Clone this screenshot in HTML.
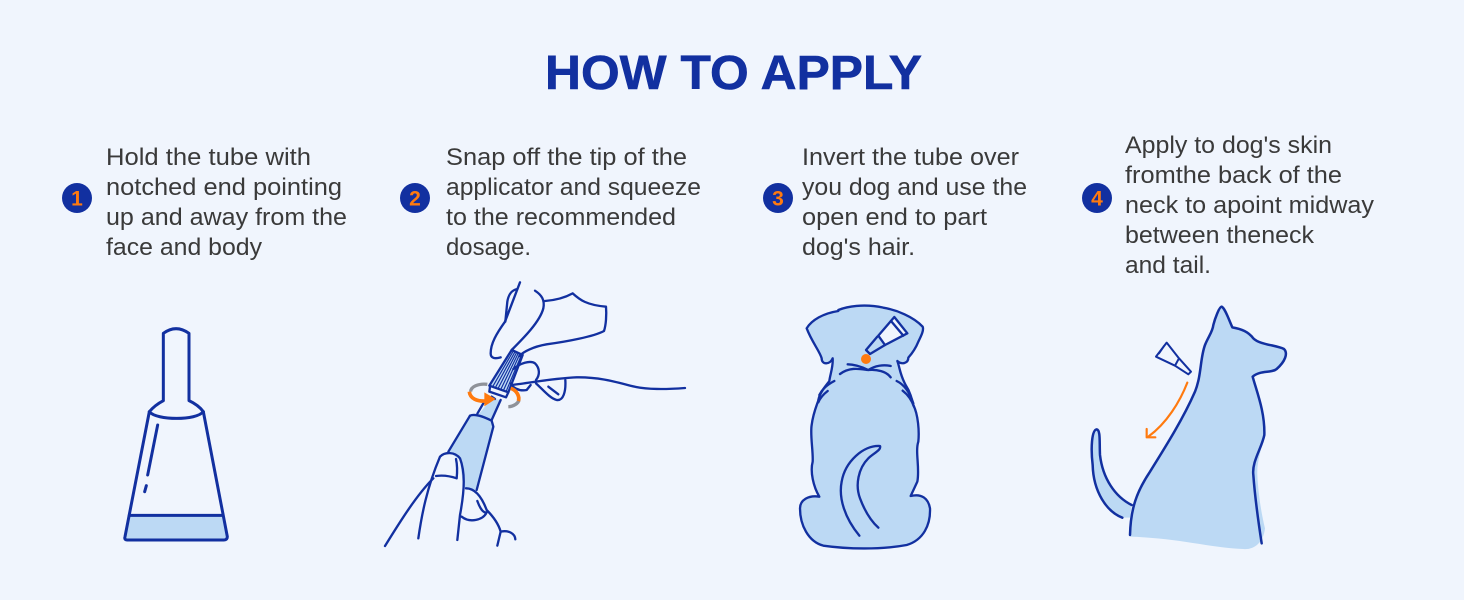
<!DOCTYPE html>
<html><head><meta charset="utf-8"><style>
html,body{margin:0;padding:0;background:#f0f5fd}
svg{display:block}
.t{font-family:"Liberation Sans",sans-serif;font-size:24px;fill:#3a3a3a}
.n{font-family:"Liberation Sans",sans-serif;font-size:21px;font-weight:bold;fill:#ff7a0f;text-anchor:middle}
.s{fill:none;stroke:#1230a0;stroke-linecap:round;stroke-linejoin:round}
</style></head><body>
<svg width="1464" height="600" viewBox="0 0 1464 600" xmlns="http://www.w3.org/2000/svg">
<rect width="1464" height="600" fill="#f0f5fd"/>
<text x="545" y="89" font-family="Liberation Sans, sans-serif" font-weight="bold" font-size="48" fill="#1230a0" stroke="#1230a0" stroke-width=".6" textLength="377" lengthAdjust="spacingAndGlyphs">HOW TO APPLY</text>

<circle cx="77" cy="198" r="15" fill="#1230a0"/><text class="n" x="77" y="205.500">1</text>
<circle cx="415" cy="198" r="15" fill="#1230a0"/><text class="n" x="415" y="205.500">2</text>
<circle cx="778" cy="198" r="15" fill="#1230a0"/><text class="n" x="778" y="205.500">3</text>
<circle cx="1097" cy="198" r="15" fill="#1230a0"/><text class="n" x="1097" y="205.500">4</text>

<g class="t">
<text class="t" x="106" y="165" textLength="205" lengthAdjust="spacingAndGlyphs">Hold the tube with</text>
<text class="t" x="106" y="195" textLength="236" lengthAdjust="spacingAndGlyphs">notched end pointing</text>
<text class="t" x="106" y="225" textLength="241" lengthAdjust="spacingAndGlyphs">up and away from the</text>
<text class="t" x="106" y="255" textLength="156" lengthAdjust="spacingAndGlyphs">face and body</text>
<text class="t" x="446" y="165" textLength="241" lengthAdjust="spacingAndGlyphs">Snap off the tip of the</text>
<text class="t" x="446" y="195" textLength="255" lengthAdjust="spacingAndGlyphs">applicator and squeeze</text>
<text class="t" x="446" y="225" textLength="230" lengthAdjust="spacingAndGlyphs">to the recommended</text>
<text class="t" x="446" y="255" textLength="85" lengthAdjust="spacingAndGlyphs">dosage.</text>
<text class="t" x="802" y="165" textLength="217" lengthAdjust="spacingAndGlyphs">Invert the tube over</text>
<text class="t" x="802" y="195" textLength="225" lengthAdjust="spacingAndGlyphs">you dog and use the</text>
<text class="t" x="802" y="225" textLength="185" lengthAdjust="spacingAndGlyphs">open end to part</text>
<text class="t" x="802" y="255" textLength="113" lengthAdjust="spacingAndGlyphs">dog's hair.</text>
<text class="t" x="1125" y="153" textLength="207" lengthAdjust="spacingAndGlyphs">Apply to dog's skin</text>
<text class="t" x="1125" y="183" textLength="217" lengthAdjust="spacingAndGlyphs">fromthe back of the</text>
<text class="t" x="1125" y="213" textLength="249" lengthAdjust="spacingAndGlyphs">neck to apoint midway</text>
<text class="t" x="1125" y="243" textLength="189" lengthAdjust="spacingAndGlyphs">between theneck</text>
<text class="t" x="1125" y="273" textLength="86" lengthAdjust="spacingAndGlyphs">and tail.</text>
</g>

<!-- Tube -->
<g transform="translate(100,310) scale(.33333)">
<path d="M88,618 L368,618 L382,682 Q382,690 372,690 L82,690 Q72,690 74,680 Z" fill="#bcd9f4"/>
<g class="s" stroke-width="9">
<path d="M190,272 L190,70 Q228,42 267,70 L267,272 Q295,285 310,305 L382,680 Q382,690 372,690 L82,690 Q72,690 75,680 L148,305 Q165,285 190,272"/>
<path d="M148,305 C170,332 290,332 310,305"/>
<path d="M88,616 L368,616" stroke-width="9"/>
<path d="M173,345 L143,495 M139,527 L134,545"/>
</g></g>

<!-- Hand -->
<g transform="translate(380,275) scale(.33333)">
<path d="M205,530 L270,422 L296,418 L335,370 L360,375 L335,435 L340,455 L290,645 L250,640 L240,555 Z" fill="#bcd9f4"/>
<path d="M395,225 L428,240 L385,350 L330,332 Z" fill="#bcd9f4"/>
<g class="s" stroke-width="7">
<path d="M412,42 C395,45 385,60 382,80 L376,140"/>
<path d="M420,22 L375,140 C350,175 332,205 332,235 C332,250 345,252 362,247"/>
<path d="M465,47 C485,60 495,75 490,100 C480,140 430,190 395,225"/>
<path d="M495,78 C530,75 560,65 578,55 C600,75 620,90 678,95 C680,120 678,150 672,168 C640,185 560,200 500,208 C460,215 430,230 418,243"/>
<path d="M400,282 C420,265 450,255 465,265 C480,280 480,300 468,315"/>
<path d="M393,325 C395,335 415,350 440,345 L452,330"/>
<path d="M395,330 C440,325 520,310 590,307 C650,306 700,318 750,332 C800,345 860,343 915,339"/>
<path d="M468,325 C490,345 510,370 530,375 C550,378 558,350 556,315"/>
<path d="M505,335 L535,358"/>
<path d="M395,225 L428,240 M395,225 L328,332 L385,352 L428,240"/>
<path d="M330,335 L328,350 L378,367 L385,352"/>
<path d="M335,365 L345,372 M362,375 L335,435 M310,385 L292,416"/>
<path d="M270,422 C285,415 310,425 335,437 L340,455 L290,645"/>
<path d="M270,422 L205,530"/>
<path d="M15,813 C60,740 110,660 160,610"/>
<path d="M115,790 C125,720 140,640 180,545 C195,530 225,530 240,550 C255,590 255,640 240,720 L232,795"/>
<path d="M168,603 C190,600 210,603 230,610 C232,590 232,570 228,552"/>
<path d="M258,640 C285,640 305,665 320,705 C335,720 355,745 362,770 L352,812"/>
<path d="M292,678 C300,700 310,715 320,712 C310,735 270,745 245,725"/>
<path d="M362,770 C385,765 405,775 406,793"/>
</g>
<g fill="none" stroke="#1230a0" stroke-width="3.500">
<path d="M400,228 L338,335 M405,230 L346,338 M410,232 L354,341 M415,234 L362,344 M420,236 L370,347 M425,238 L378,350"/>
</g>
<path d="M322,328 C295,325 272,335 272,350" fill="none" stroke="#8f9299" stroke-width="10"/>
<path d="M385,395 C400,395 415,385 417,375" fill="none" stroke="#8f9299" stroke-width="10"/>
<path d="M268,350 C270,370 290,380 320,378" fill="none" stroke="#ff7a0f" stroke-width="11"/>
<path d="M313,352 L347,372 L313,394 Z" fill="#ff7a0f"/>
<path d="M392,340 C410,345 420,365 415,378" fill="none" stroke="#ff7a0f" stroke-width="11"/>
</g>

<!-- Dog back -->
<g transform="translate(780,295) scale(.33333)">
<path d="M175,45 C200,35 250,25 310,38 C350,45 400,65 428,95 C432,105 425,120 415,140 C405,165 392,180 385,188 C385,205 365,210 352,198 C360,220 360,240 378,272 C390,290 395,310 400,330 C415,360 418,410 415,440 C405,470 420,520 412,560 L392,603 C425,595 445,610 450,640 C452,690 430,735 380,750 C300,765 200,762 130,752 C85,740 60,690 60,640 C60,615 85,600 118,605 C100,575 90,530 98,500 C100,470 90,420 95,390 C100,350 115,320 115,315 C120,290 140,270 148,258 C150,240 160,215 158,190 C150,210 125,210 125,190 C120,170 95,140 80,100 C95,75 130,55 175,48 Z" fill="#bcd9f4" stroke="#1230a0" stroke-width="7" stroke-linejoin="round"/>
<g class="s" stroke-width="7">
<path d="M203,208 C225,208 250,218 265,225 C285,212 310,208 332,213"/>
<path d="M180,237 C210,215 240,222 265,225 C290,222 320,230 332,247"/>
<path d="M163,258 C140,270 125,285 118,300 M143,288 C130,298 120,310 115,322"/>
<path d="M350,258 C375,270 390,295 400,325 M368,287 C385,300 395,315 402,335"/>
<path d="M238,722 C195,670 175,610 185,560 C195,500 250,450 300,453 C305,465 280,475 265,490 C235,520 225,570 240,610 C255,650 275,680 295,698"/>
<path d="M343,66 L382,115 L315,150 L295,122 Z" fill="#f0f5fd"/>
<path d="M333,78 L370,122"/>
<path d="M292,125 L258,165 L270,177 L315,150"/>
</g>
<circle cx="258" cy="192" r="15" fill="#ff7a0f"/>
</g>

<!-- Dog side -->
<g transform="translate(1080,295) scale(.33333)">
<path d="M150,725 C155,640 170,590 210,530 C260,450 310,370 345,290 C365,240 360,190 375,150 C385,125 398,110 400,90 C405,70 418,35 425,35 C435,40 445,70 457,97 C485,102 505,110 520,130 C540,150 590,150 612,162 C625,175 615,200 590,222 C575,235 540,225 518,245 C530,290 555,350 553,420 C545,460 530,500 532,540 C535,600 545,660 555,700 C550,745 520,765 490,762 C400,760 300,730 150,725 Z" fill="#bcd9f4"/>
<path d="M127,668 C80,650 40,590 38,510 C32,460 35,405 50,403 C62,405 58,440 60,480 C68,550 105,605 155,630 L150,668 Z" fill="#bcd9f4"/>
<g class="s" stroke-width="7.500">
<path d="M150,720 C152,640 170,590 210,530 C260,450 310,370 345,290 C365,240 360,190 375,150 C385,125 398,110 400,90 C405,70 418,35 425,35 C435,40 445,70 457,97 C485,102 505,110 520,130 C540,150 590,150 612,162 C625,175 615,200 590,222 C575,235 540,225 518,245 C530,290 555,350 553,420 C545,460 515,500 520,540 C525,610 535,680 545,745"/>
<path d="M127,668 C80,650 40,590 38,510 C32,460 35,405 50,403 C62,405 58,440 60,480 C68,550 105,605 155,630"/>
<path d="M260,143 L228,185 L285,212 L297,190 Z M252,153 L237,175 M297,190 L333,230 L325,238 L285,212" stroke-width="6"/>
</g>
<g fill="none" stroke="#ff7a0f" stroke-width="6.500" stroke-linecap="round" stroke-linejoin="round">
<path d="M322,263 C300,320 260,385 205,425"/>
<path d="M200,402 L200,427 L226,427"/>
</g>
</g>
</svg>
</body></html>
